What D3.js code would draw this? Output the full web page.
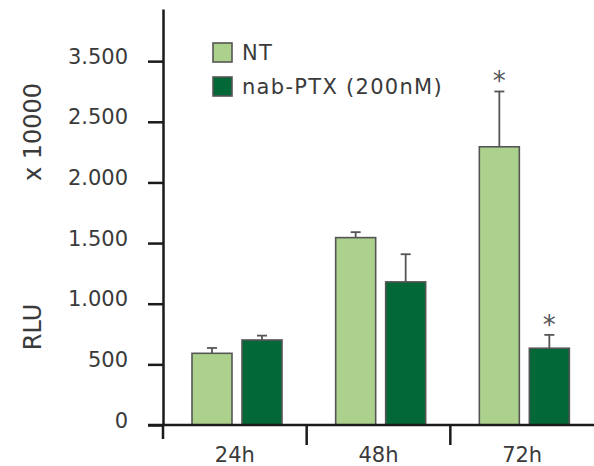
<!DOCTYPE html>
<html><head><meta charset="utf-8">
<script src="https://cdn.jsdelivr.net/npm/d3@7"></script>
<style>body{margin:0;background:#fff}svg{display:block}text{font-family:"DejaVu Sans",sans-serif;fill:#3a3a3a}</style>
</head><body>
<script>
const categories = ["24h", "48h", "72h"];
const seriesNames = ["NT", "nab-PTX (200nM)"];
const ntValues = [591, 1545, 2294];
const ntErrors = [44, 45, 456];
const ptxValues = [701, 1180, 633];
const ptxErrors = [36, 228, 110];
const ntSignificant = [false, false, true];
const ptxSignificant = [false, false, true];
const tickValues = [0, 500, 1000, 1500, 2000, 2500, 3000];
const tickLabels = ["0", "500", "1.000", "1.500", "2.000", "2.500", "3.500"];
const colors = ["#acd18d", "#036837"];

const W = 594, H = 466;
const FONT = '"DejaVu Sans",sans-serif';
const svg = d3.select("body").append("svg").attr("width", W).attr("height", H);

const y = d3.scaleLinear().domain([0, 3430]).range([425, 9]);
const x = d3.scaleBand().domain(categories).range([163, 594]).padding(0);
const xi = d3.scaleBand().domain(seriesNames).range([29, 119]).paddingInner(0.2);

const rows = categories.map((c, i) => [
  {cat: c, s: seriesNames[0], v: ntValues[i], e: ntErrors[i], sig: ntSignificant[i], col: colors[0]},
  {cat: c, s: seriesNames[1], v: ptxValues[i], e: ptxErrors[i], sig: ptxSignificant[i], col: colors[1]}
]).flat();

// bars
svg.selectAll("rect.bar").data(rows).join("rect").attr("class", "bar")
  .attr("x", d => x(d.cat) + xi(d.s))
  .attr("y", d => y(d.v))
  .attr("width", xi.bandwidth())
  .attr("height", d => y(0) - y(d.v))
  .attr("fill", d => d.col)
  .attr("stroke", "#555").attr("stroke-width", 1.6);

// error bars
const eb = svg.append("g").attr("stroke", "#555").attr("stroke-width", 1.8);
rows.forEach(d => {
  const cx = x(d.cat) + xi(d.s) + xi.bandwidth() / 2;
  eb.append("line").attr("x1", cx).attr("x2", cx).attr("y1", y(d.v)).attr("y2", y(d.v + d.e));
  eb.append("line").attr("x1", cx - 5).attr("x2", cx + 5).attr("y1", y(d.v + d.e)).attr("y2", y(d.v + d.e));
  if (d.sig) {
    svg.append("text").attr("x", cx).attr("y", y(d.v + d.e) - 1).attr("text-anchor", "middle")
      .attr("font-size", 26).style("fill", "#555").text("*");
  }
});

// y axis
const yAxis = d3.axisLeft(y).tickValues(tickValues).tickSize(15).tickSizeOuter(0)
  .tickFormat((d, i) => tickLabels[i]);
const gy = svg.append("g").attr("transform", "translate(163,0)").call(yAxis);
gy.select(".domain").attr("stroke", "#1a1a1a").attr("stroke-width", 2.5);
gy.selectAll(".tick line").attr("stroke", "#1a1a1a").attr("stroke-width", 2.5);
gy.selectAll(".tick text").attr("x", -35).attr("dy", "0.1em")
  .attr("font-size", 21).style("fill", "#3a3a3a").style("font-family", FONT);
svg.append("line").attr("x1", 163).attr("x2", 163).attr("y1", 425).attr("y2", 439)
  .attr("stroke", "#1a1a1a").attr("stroke-width", 2.5);

// x axis
svg.append("line").attr("x1", 148).attr("x2", 594).attr("y1", 425).attr("y2", 425)
  .attr("stroke", "#1a1a1a").attr("stroke-width", 2.5);
categories.slice(1).forEach(c => {
  svg.append("line").attr("x1", x(c)).attr("x2", x(c)).attr("y1", 425).attr("y2", 445)
    .attr("stroke", "#1a1a1a").attr("stroke-width", 2.5);
});
const xAxis = d3.axisBottom(x).tickSize(0).tickSizeOuter(0);
const gx = svg.append("g").attr("transform", "translate(0,425)").call(xAxis);
gx.select(".domain").remove();
gx.selectAll(".tick text").attr("y", 37).attr("dy", "0").attr("font-size", 21)
  .style("fill", "#3a3a3a").style("font-family", FONT);

// y titles
svg.append("text").attr("transform", "translate(41,132) rotate(-90)").attr("text-anchor", "middle")
  .attr("font-size", 24).text("x 10000");
svg.append("text").attr("transform", "translate(41,327) rotate(-90)").attr("text-anchor", "middle")
  .attr("font-size", 24).text("RLU");

// legend
const lg = svg.append("g");
seriesNames.forEach((s, i) => {
  const yy = 43 + i * 34;
  lg.append("rect").attr("x", 213).attr("y", yy).attr("width", 19).attr("height", 19)
    .attr("fill", colors[i]).attr("stroke", "#555").attr("stroke-width", 1.6);
  lg.append("text").attr("x", 242).attr("y", yy + 17).attr("font-size", 21)
    .style("letter-spacing", "1.3px").text(s);
});
</script>
</body></html>
